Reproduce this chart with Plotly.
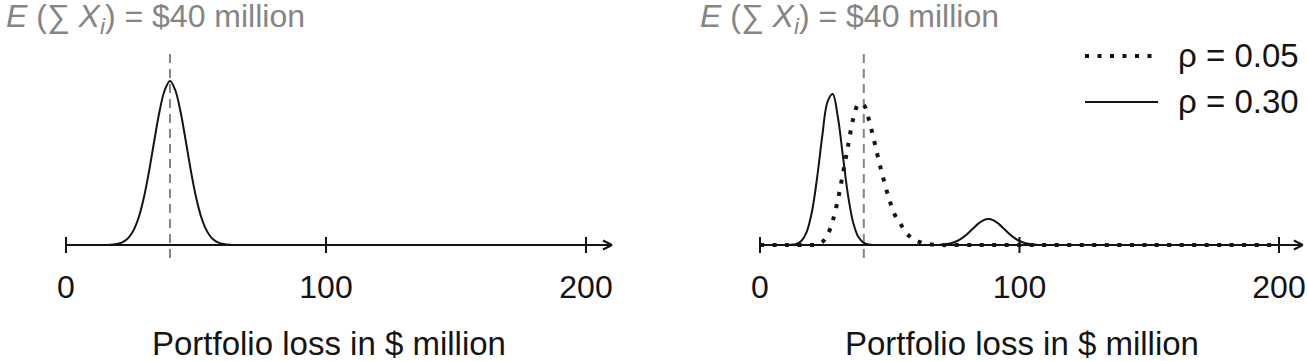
import plotly.graph_objects as go

# ---------------- data ----------------
tick_vals = [0, 100, 200]
tick_text = ["0", "100", "200"]
expected_loss = 40

# left panel: single loss distribution
x_left = [0, 10, 16, 18, 20, 22, 24, 26, 28, 30, 32, 34, 36, 38, 40, 42, 44, 46, 48, 50,
          52, 54, 56, 58, 60, 62, 64, 70, 100, 150, 200]
y_left = [0, 0, 0, 0.4, 1.2, 3.1, 7.1, 14.9, 28, 48, 74.6, 105, 134, 155, 164, 155, 134, 105, 74.6, 48,
          28, 14.9, 7.1, 3.1, 1.2, 0.4, 0, 0, 0, 0, 0]

# right panel: rho = 0.05 (dotted)
x_rho05 = [0, 10, 20, 22, 24, 26, 28, 30, 32, 34, 36, 38, 40, 42, 44, 46, 48, 50, 52, 54,
           56, 58, 60, 62, 64, 66, 68, 80, 100, 150, 200]
y_rho05 = [0, 0, 0, 0.5, 3, 10, 24, 45, 72, 100, 127, 141, 140, 125, 104, 82, 62, 44, 30, 22,
           13, 8, 4.5, 2.5, 1.2, 0.5, 0, 0, 0, 0, 0]

# right panel: rho = 0.30 (solid, bimodal)
x_rho30 = [0, 8, 12, 14, 16, 18, 20, 22, 24, 26, 28, 30, 32, 34, 36, 38, 40, 42, 44, 50, 60,
           68, 70, 72, 74, 76, 78, 80, 82, 84, 86, 88, 90, 92, 94, 96, 98, 100, 102, 104, 106,
           108, 120, 150, 200]
y_rho30 = [0, 0, 0.3, 1.1, 4.3, 13.2, 33, 67, 109, 143, 151, 128, 88, 48.5, 21.6, 7.7, 2.2, 0.5, 0, 0, 0,
           0, 0.4, 0.9, 2.0, 4.0, 7.1, 11.3, 16.3, 21.1, 24.7, 26, 24.7, 21.1, 16.3, 11.3, 7.1, 4.0, 2.0, 0.9, 0.4,
           0, 0, 0, 0]

legend_labels = ["ρ = 0.05", "ρ = 0.30"]
annot_text = "<i>E</i> (∑ <i>X<sub>i</sub></i>) = $40 million"
xaxis_title = "Portfolio loss in $ million"

# ---------------- layout constants ----------------
W, H = 1307, 361
FONT = "Liberation Sans, Arial, Helvetica, sans-serif"
INK = "#141414"
GREY = "#858585"
DOT = "4px,8.5px"

def px_y(p):  # paper y from pixel row
    return 1 - p / H

def px_x(p):
    return p / W

fig = go.Figure()

fig.add_trace(go.Scatter(x=x_left, y=y_left, mode="lines", line=dict(color=INK, width=2, shape="spline"),
                         xaxis="x", yaxis="y", showlegend=False, hoverinfo="skip"))
fig.add_trace(go.Scatter(x=x_rho30, y=y_rho30, mode="lines", line=dict(color=INK, width=2, shape="spline"),
                         xaxis="x2", yaxis="y2", showlegend=False, hoverinfo="skip"))
fig.add_trace(go.Scatter(x=x_rho05, y=y_rho05, mode="lines",
                         line=dict(color=INK, width=4, dash=DOT, shape="spline"),
                         xaxis="x2", yaxis="y2", showlegend=False, hoverinfo="skip"))

ydom = [px_y(265), px_y(40)]
yrange = [-20, 205]
axis_common = dict(tickvals=tick_vals, ticktext=tick_text, showgrid=False, zeroline=False,
                   showline=False, ticks="", tickfont=dict(size=32, color=INK, family=FONT),
                   fixedrange=True)
fig.update_layout(
    width=W, height=H, margin=dict(l=0, r=0, t=0, b=0),
    paper_bgcolor="white", plot_bgcolor="white",
    font=dict(family=FONT, color=INK),
    xaxis=dict(domain=[px_x(40), px_x(640)], range=[-10, 220.77], anchor="y", **axis_common),
    xaxis2=dict(domain=[px_x(735), 1.0], range=[-9.63, 210.79], anchor="y2", **axis_common),
    yaxis=dict(domain=ydom, range=yrange, visible=False, fixedrange=True),
    yaxis2=dict(domain=ydom, range=yrange, visible=False, fixedrange=True, anchor="x2"),
)

shapes = []
annotations = []
for xr, yr, end in (("x", "y", 210), ("x2", "y2", 209.2)):
    # axis baseline
    shapes.append(dict(type="line", xref=xr, yref=yr, x0=0, x1=end, y0=0, y1=0,
                       line=dict(color=INK, width=2), layer="below"))
    # ticks crossing the baseline
    for t in tick_vals:
        shapes.append(dict(type="line", xref=xr, yref=yr, x0=t, x1=t, ysizemode="pixel", yanchor=0,
                           y0=-8, y1=8, line=dict(color=INK, width=2)))
    # chevron arrow head
    for s in (1, -1):
        shapes.append(dict(type="line", xref=xr, yref=yr, xsizemode="pixel", xanchor=end,
                           x0=-9, x1=0, ysizemode="pixel", yanchor=0, y0=4.5 * s, y1=0,
                           line=dict(color=INK, width=2)))
    # expected loss dashed line
    shapes.append(dict(type="line", xref=xr, yref=yr, x0=expected_loss, x1=expected_loss,
                       y0=-13, y1=197, line=dict(color=GREY, width=2, dash="9px,6px"), layer="below"))
    # header annotation
    annotations.append(dict(text=annot_text, xref=xr, yref="paper", x=expected_loss, xanchor="left",
                            xshift=-166, y=px_y(19), yanchor="middle", showarrow=False,
                            font=dict(size=32, color=GREY, family=FONT)))
    # x title
    annotations.append(dict(text=xaxis_title, xref=xr, yref="paper", x=101, xanchor="center",
                            y=px_y(343), yanchor="middle", showarrow=False,
                            font=dict(size=33, color=INK, family=FONT)))

# manual legend (right panel)
leg_rows = [(56, dict(color=INK, width=4, dash=DOT)), (102, dict(color=INK, width=2))]
for (row, ln), lab in zip(leg_rows, legend_labels):
    shapes.append(dict(type="line", xref="paper", yref="paper", x0=px_x(1085), x1=px_x(1158),
                       y0=px_y(row), y1=px_y(row), line=ln))
    annotations.append(dict(text=lab, xref="paper", yref="paper", x=px_x(1176), xanchor="left",
                            y=px_y(row), yanchor="middle", showarrow=False,
                            font=dict(size=33, color=INK, family=FONT)))

fig.update_layout(shapes=shapes, annotations=annotations)
fig.write_html("out.html", config={"displayModeBar": False, "staticPlot": True})
